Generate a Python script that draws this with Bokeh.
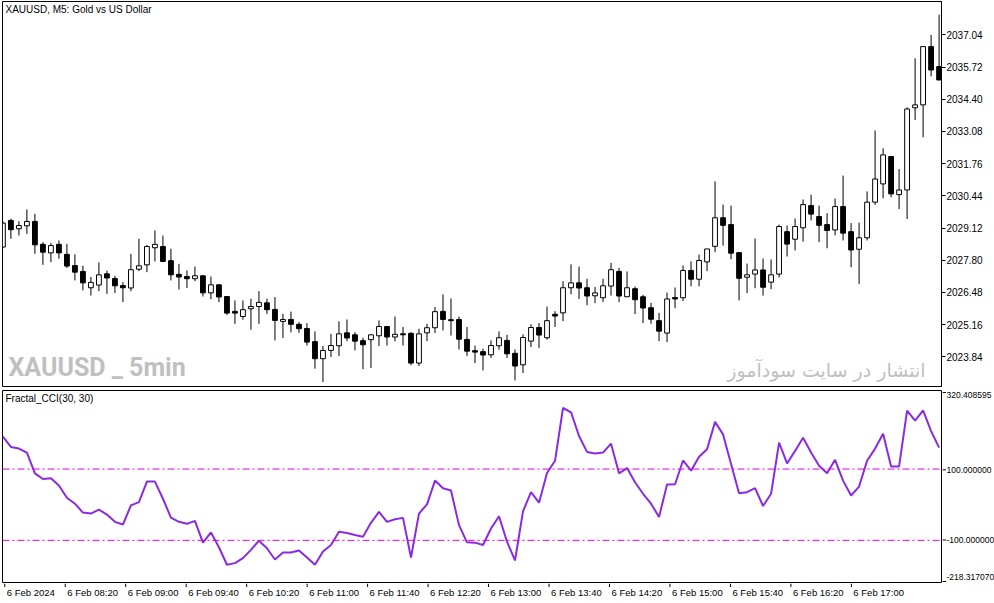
from bokeh.plotting import figure
from bokeh.models import (Range1d, FixedTicker, PrintfTickFormatter, Label, ColumnDataSource, Span)
from bokeh.layouts import column, row
from bokeh.embed import file_html
from bokeh.resources import INLINE
from bokeh.core.properties import value

# ---------------- data ----------------
opens = [2028.34, 2029.43, 2029.09, 2029.21, 2029.39, 2028.45, 2028.10, 2028.45, 2028.04, 2027.58,
         2027.34, 2026.67, 2026.78, 2027.24, 2027.05, 2026.76, 2026.66, 2027.43, 2027.61, 2028.31,
         2028.36, 2027.78, 2027.22, 2027.13, 2027.04, 2027.16, 2026.46, 2026.79, 2026.31, 2025.70,
         2025.49, 2025.81, 2025.90, 2026.05, 2025.78, 2025.29, 2025.37, 2025.17, 2025.00, 2024.46,
         2023.76, 2024.10, 2024.29, 2024.82, 2024.74, 2024.50, 2024.54, 2024.70, 2025.08, 2024.65,
         2024.78, 2024.80, 2023.58, 2024.82, 2025.03, 2025.70, 2025.36, 2025.37, 2024.55, 2024.09,
         2024.05, 2023.92, 2024.29, 2024.51, 2023.98, 2023.51, 2024.48, 2025.04, 2024.62, 2025.58,
         2025.64, 2026.67, 2026.87, 2026.67, 2026.34, 2026.26, 2026.74, 2027.34, 2026.30, 2026.63,
         2026.30, 2025.85, 2025.32, 2024.81, 2026.27, 2026.26, 2027.38, 2027.02, 2027.73, 2028.37,
         2029.54, 2029.26, 2028.11, 2027.10, 2027.23, 2027.40, 2026.90, 2027.23, 2028.97, 2028.66,
         2029.13, 2030.04, 2029.59, 2029.26, 2029.04, 2030.00, 2028.97, 2028.25, 2028.72, 2030.18,
         2030.93, 2032.05, 2030.49, 2030.68, 2034.05, 2034.17, 2036.56, 2035.74]
highs = [2029.40, 2029.50, 2029.40, 2029.88, 2029.70, 2028.54, 2028.51, 2028.61, 2028.47, 2028.04,
         2027.58, 2027.11, 2027.71, 2027.37, 2027.16, 2026.90, 2028.06, 2028.68, 2028.43, 2029.02,
         2028.81, 2028.27, 2027.65, 2027.38, 2027.54, 2027.19, 2027.13, 2026.81, 2026.31, 2026.15,
         2026.15, 2026.22, 2026.53, 2026.22, 2026.29, 2025.60, 2025.69, 2025.26, 2025.22, 2024.88,
         2024.28, 2024.78, 2025.29, 2025.37, 2024.85, 2024.62, 2024.76, 2025.33, 2025.10, 2025.49,
         2025.06, 2024.85, 2024.99, 2025.19, 2025.88, 2026.40, 2026.23, 2025.49, 2025.06, 2024.30,
         2024.17, 2024.51, 2024.88, 2024.74, 2024.14, 2024.76, 2025.17, 2025.22, 2025.90, 2025.71,
         2026.94, 2027.63, 2027.54, 2027.04, 2026.70, 2027.04, 2027.69, 2027.49, 2027.34, 2026.72,
         2026.38, 2026.05, 2025.64, 2026.47, 2026.68, 2027.58, 2027.75, 2028.03, 2028.26, 2031.03,
         2030.08, 2030.04, 2028.11, 2027.66, 2028.69, 2027.87, 2027.83, 2029.26, 2029.22, 2029.51,
         2030.29, 2030.49, 2030.04, 2029.73, 2030.33, 2031.27, 2029.32, 2029.34, 2030.62, 2033.12,
         2032.39, 2032.05, 2031.54, 2034.07, 2036.08, 2036.56, 2037.04, 2037.87]
lows = [2028.31, 2028.68, 2028.81, 2028.88, 2028.06, 2027.61, 2027.72, 2027.86, 2027.48, 2026.97,
        2026.56, 2026.35, 2026.53, 2026.42, 2026.45, 2026.08, 2026.53, 2027.35, 2027.31, 2027.75,
        2027.72, 2026.97, 2026.60, 2026.66, 2026.94, 2026.31, 2026.20, 2026.08, 2025.56, 2025.19,
        2025.36, 2024.95, 2025.19, 2025.60, 2024.51, 2024.61, 2024.84, 2024.82, 2024.30, 2023.35,
        2022.80, 2023.83, 2023.87, 2024.48, 2024.10, 2023.33, 2023.38, 2024.28, 2024.30, 2024.47,
        2024.30, 2023.49, 2023.46, 2024.48, 2024.81, 2024.92, 2024.71, 2024.14, 2023.87, 2023.58,
        2023.28, 2023.79, 2024.13, 2023.79, 2022.87, 2023.17, 2024.24, 2024.20, 2024.54, 2025.06,
        2025.30, 2026.40, 2026.21, 2025.95, 2026.04, 2026.08, 2026.35, 2026.08, 2026.29, 2025.59,
        2025.22, 2025.19, 2024.48, 2024.44, 2025.83, 2026.12, 2026.73, 2026.73, 2027.35, 2028.13,
        2028.40, 2027.84, 2026.15, 2026.45, 2026.65, 2026.35, 2026.61, 2027.09, 2027.95, 2028.20,
        2028.56, 2029.43, 2028.54, 2028.29, 2028.82, 2028.61, 2027.51, 2026.82, 2028.61, 2030.07,
        2030.34, 2030.38, 2029.90, 2029.49, 2033.55, 2032.84, 2035.34, 2035.19]
closes = [2029.32, 2029.05, 2029.22, 2029.39, 2028.43, 2028.13, 2028.40, 2028.10, 2027.56, 2027.31,
          2026.87, 2026.89, 2027.20, 2027.07, 2026.75, 2026.67, 2027.41, 2027.57, 2028.36, 2028.45,
          2027.75, 2027.20, 2027.11, 2027.04, 2027.16, 2026.46, 2026.79, 2026.29, 2025.63, 2025.63,
          2025.77, 2025.90, 2026.07, 2025.77, 2025.33, 2025.37, 2025.17, 2024.99, 2024.44, 2023.76,
          2024.10, 2024.30, 2024.78, 2024.61, 2024.48, 2024.33, 2024.74, 2025.08, 2024.65, 2024.76,
          2024.74, 2023.58, 2024.78, 2025.03, 2025.69, 2025.37, 2025.32, 2024.56, 2024.07, 2024.03,
          2023.91, 2024.30, 2024.62, 2023.96, 2023.46, 2024.63, 2025.04, 2024.73, 2025.32, 2025.51,
          2026.67, 2026.87, 2026.66, 2026.33, 2026.46, 2026.75, 2027.41, 2026.33, 2026.67, 2026.18,
          2025.84, 2025.38, 2024.89, 2026.21, 2026.21, 2027.38, 2027.02, 2027.79, 2028.26, 2029.54,
          2029.23, 2028.09, 2027.06, 2027.20, 2027.40, 2026.69, 2027.20, 2029.18, 2028.46, 2029.18,
          2030.08, 2029.69, 2029.23, 2029.02, 2030.00, 2028.91, 2028.22, 2028.72, 2030.18, 2031.13,
          2032.12, 2030.52, 2030.68, 2034.00, 2034.17, 2036.56, 2035.60, 2035.19]
cci = [190.7, 162.0, 157.4, 146.3, 88.0, 72.2, 74.1, 53.7, 19.4, 2.8,
       -22.2, -25.0, -13.9, -27.8, -48.1, -55.6, -1.9, 7.4, 64.8, 64.8,
       16.7, -36.1, -48.1, -53.7, -45.4, -106.5, -77.8, -119.4, -168.5, -163.9,
       -150.0, -126.9, -100.9, -122.2, -153.7, -134.3, -134.3, -128.7, -148.1, -168.5,
       -131.5, -113.0, -75.9, -79.6, -85.2, -89.8, -50.9, -20.4, -48.1, -40.7,
       -37.0, -148.1, -25.0, 0.9, 67.6, 46.3, 39.8, -57.4, -105.6, -106.5,
       -113.0, -66.7, -32.4, -103.7, -156.5, -18.5, 35.2, 5.6, 88.9, 123.1,
       271.3, 259.3, 192.6, 148.1, 143.5, 146.3, 171.3, 88.0, 102.8, 63.0,
       30.6, 2.8, -34.3, 56.5, 57.4, 124.1, 95.4, 134.3, 155.6, 232.4,
       197.2, 113.9, 32.4, 35.2, 46.3, -3.7, 30.6, 174.1, 115.7, 150.9,
       188.0, 146.3, 109.3, 88.0, 125.9, 67.6, 25.9, 50.9, 123.1, 157.4,
       199.1, 107.4, 107.4, 263.9, 236.1, 264.8, 206.5, 160.2]
bars = list(range(len(opens)))

time_tick_bars = [0, 8, 16, 24, 32, 40, 48, 56, 64, 72, 80, 88, 96, 104, 112]
time_tick_labels = ["6 Feb 2024", "6 Feb 08:20", "6 Feb 09:00", "6 Feb 09:40", "6 Feb 10:20",
                    "6 Feb 11:00", "6 Feb 11:40", "6 Feb 12:20", "6 Feb 13:00", "6 Feb 13:40",
                    "6 Feb 14:20", "6 Feb 15:00", "6 Feb 15:40", "6 Feb 16:20", "6 Feb 17:00"]
price_ticks = [2023.84, 2025.16, 2026.48, 2027.80, 2029.12, 2030.44, 2031.76, 2033.08, 2034.40,
               2035.72, 2037.04]
price_min, price_max = 2022.62, 2038.41
cci_min, cci_max = -218.317070, 320.408595
cci_levels = [100.0, -100.0]
cci_tick_values = [cci_max, 100.0, -100.0, cci_min]
cci_tick_texts = ["320.408595", "100.000000", "-100.000000", "-218.317070"]
cci_text_pos = [314.0, 100.0, -100.0, -205.0]

# ---------------- layout constants ----------------
W = 994
FRAME_L = 2
FRAME_R = 941
TOP_H = 388              # frame 1..386
P2_TOP, P2_FRAME_H, P2_BOT = 2, 192, 1
P2_H = P2_TOP + P2_FRAME_H + P2_BOT
P4_H = 603 - TOP_H - P2_H
FONT = "Liberation Sans"
x_start, x_end = -0.05, 117.3
ppb = (FRAME_R - FRAME_L) / (x_end - x_start)
ppu = P2_FRAME_H / (cci_max - cci_min)

x_range = Range1d(x_start, x_end)


def clean(p):
    p.grid.visible = False
    p.background_fill_color = "white"
    p.border_fill_color = "white"


# ---------------- price pane ----------------
p1 = figure(width=W, height=TOP_H, x_range=x_range, y_range=Range1d(price_min, price_max),
            output_backend="svg", toolbar_location=None, tools="",
            x_axis_location=None, y_axis_location="right",
            min_border_left=FRAME_L, min_border_top=1, min_border_bottom=2,
            min_border_right=W - FRAME_R)
clean(p1)
p1.outline_line_color = "black"
ax = p1.yaxis[0]
ax.ticker = FixedTicker(ticks=price_ticks)
ax.formatter = PrintfTickFormatter(format="%.2f")
ax.major_tick_out = 4
ax.major_tick_in = 0
ax.minor_tick_line_color = None
ax.major_label_standoff = 1
ax.major_label_text_font = FONT
ax.major_label_text_font_size = "10px"
ax.major_label_text_color = "black"
ax.axis_line_color = "black"

tops = [max(o, c) for o, c in zip(opens, closes)]
bottoms = [min(o, c) for o, c in zip(opens, closes)]
fills = ["white" if c >= o else "black" for o, c in zip(opens, closes)]
src = ColumnDataSource(dict(x=bars, high=highs, low=lows, top=tops, bottom=bottoms, fill=fills))

p1.add_layout(Label(x=6, y=19, x_units="screen", y_units="screen", text="XAUUSD _ 5min",
                    text_font="Roboto", text_font_style="bold", text_font_size="25px",
                    text_color="#c0c0c0", text_baseline="middle", text_align="left", level="underlay"))
p1.add_layout(Label(x=923, y=17, x_units="screen", y_units="screen", text="انتشار در سایت سودآموز",
                    text_font="DejaVu Sans", text_font_size="19px",
                    text_color="#c0c0c0", text_baseline="middle", text_align="right", level="underlay"))

p1.segment(x0="x", y0="low", x1="x", y1="high", source=src, line_color="black", line_width=1)
p1.vbar(x="x", width=0.6, top="top", bottom="bottom", fill_color="fill", line_color="black",
        line_width=1, source=src)

p1.add_layout(Label(x=3, y=TOP_H - 3 - 2, x_units="screen", y_units="screen",
                    text="XAUUSD, M5:  Gold vs US Dollar", text_font=FONT, text_font_size="10px",
                    text_color="black", text_baseline="top", text_align="left"))

# ---------------- indicator pane ----------------
p2 = figure(width=FRAME_R + 1, height=P2_H, x_range=x_range, y_range=Range1d(cci_min, cci_max),
            output_backend="svg", toolbar_location=None, tools="",
            x_axis_location=None, y_axis_location=None,
            min_border_left=FRAME_L, min_border_top=P2_TOP, min_border_bottom=P2_BOT,
            min_border_right=1)
clean(p2)
p2.outline_line_color = "black"

for lvl in cci_levels:
    p2.add_layout(Span(location=lvl, dimension="width", line_color="#e000e0",
                       line_width=1, line_dash="7 3 2 3"))

p2.line(x=bars, y=cci, line_color="#8a2be2", line_width=2)

p2.add_layout(Label(x=3, y=P2_FRAME_H - 2, x_units="screen", y_units="screen",
                    text="Fractal_CCI(30, 30)", text_font=FONT, text_font_size="10px",
                    text_color="black", text_baseline="top", text_align="left"))

# right scale of the indicator pane (ticks + labels)
P3_W = W - FRAME_R - 1
p3 = figure(width=P3_W, height=P2_H, x_range=Range1d(0, P3_W),
            y_range=Range1d(cci_min - P2_BOT / ppu, cci_max + P2_TOP / ppu),
            output_backend="svg", toolbar_location=None, tools="",
            x_axis_location=None, y_axis_location=None,
            min_border_left=0, min_border_right=0, min_border_top=0, min_border_bottom=0)
clean(p3)
p3.outline_line_color = None
p3.segment(x0=[0] * len(cci_tick_values), y0=cci_tick_values, x1=[3.5] * len(cci_tick_values),
           y1=cci_tick_values, line_color="black", line_width=1)
p3.text(x=[4] * len(cci_tick_texts), y=cci_text_pos, text=cci_tick_texts,
        text_font=value(FONT), text_font_size="8.5px", text_color="black",
        text_baseline="middle", text_align="left")

# time scale (ticks + labels)
p4_start = x_start - FRAME_L / ppb
p4 = figure(width=W, height=P4_H, x_range=Range1d(p4_start, p4_start + W / ppb),
            y_range=Range1d(0, P4_H), output_backend="svg", toolbar_location=None, tools="",
            x_axis_location=None, y_axis_location=None,
            min_border_left=0, min_border_right=0, min_border_top=0, min_border_bottom=0)
clean(p4)
p4.outline_line_color = None
p4.segment(x0=time_tick_bars, y0=[P4_H] * len(time_tick_bars), x1=time_tick_bars,
           y1=[P4_H - 3.5] * len(time_tick_bars), line_color="black", line_width=1)
p4.text(x=time_tick_bars, y=[P4_H - 3] * len(time_tick_bars), text=time_tick_labels,
        x_offset=2, text_font=value(FONT), text_font_size="9.5px", text_color="black",
        text_baseline="top", text_align="left")

layout = column(p1, row(p2, p3, spacing=0), p4, spacing=0)
open("out.html", "w").write(file_html(layout, INLINE))
